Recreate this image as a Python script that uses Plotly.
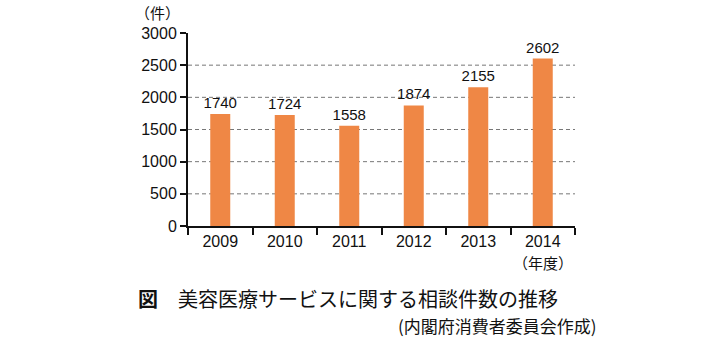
import plotly.graph_objects as go

years = ["2009", "2010", "2011", "2012", "2013", "2014"]
counts = [1740, 1724, 1558, 1874, 2155, 2602]
y_ticks = [0, 500, 1000, 1500, 2000, 2500, 3000]
grid_vals = [500, 1000, 1500, 2000, 2500]

NUM_FONT = "Liberation Sans, Arial, sans-serif"
JP_FONT = "Noto Sans CJK JP, sans-serif"

fig = go.Figure()
fig.add_trace(go.Bar(
    x=years, y=counts,
    marker=dict(color="#EF8745", line=dict(width=0)),
    width=0.31,
    text=[str(v) for v in counts],
    textposition="outside",
    constraintext="none",
    textfont=dict(family=NUM_FONT, size=15, color="#111"),
    cliponaxis=False,
))

for g in grid_vals:
    fig.add_shape(type="line", xref="paper", yref="y", x0=0, x1=1, y0=g, y1=g,
                  line=dict(color="#777", width=1, dash="4px,3px"), layer="below")

last_idx = len(years) - 1

fig.update_layout(
    width=720, height=340,
    margin=dict(l=188, r=145, t=33, b=114),
    paper_bgcolor="white", plot_bgcolor="white",
    showlegend=False,
    xaxis=dict(
        type="category",
        range=[-0.5, len(years) - 0.5],
        showline=True, linecolor="#111", linewidth=2,
        ticks="outside", tickson="boundaries", ticklen=7, tickwidth=1.5, tickcolor="#111",
        tickfont=dict(family=NUM_FONT, size=16, color="#111"),
        tickangle=0,
        showgrid=False, zeroline=False,
    ),
    yaxis=dict(
        range=[0, 3000],
        tickvals=y_ticks, ticktext=[str(v) for v in y_ticks],
        showline=True, linecolor="#111", linewidth=2,
        ticks="outside", ticklen=6, tickwidth=1.5, tickcolor="#111",
        tickfont=dict(family=NUM_FONT, size=16, color="#111"),
        showgrid=False, zeroline=False,
    ),
    annotations=[
        dict(text="（件）", xref="paper", yref="paper", x=0, xshift=-6, y=1.0, yshift=21,
             xanchor="right", yanchor="middle", showarrow=False,
             font=dict(family=JP_FONT, size=15, color="#111")),
        dict(text="（年度）", xref="paper", yref="paper",
             x=(last_idx + 0.5) / len(years), y=0, yshift=-36,
             xanchor="center", yanchor="middle", showarrow=False,
             font=dict(family=JP_FONT, size=15, color="#111")),
        dict(text="<b>図</b>\u3000美容医療サービスに関する相談件数の推移",
             xref="paper", yref="paper", x=0, xshift=-52, y=0, yshift=-72,
             xanchor="left", yanchor="middle", showarrow=False,
             font=dict(family=JP_FONT, size=20, color="#111")),
        dict(text="(内閣府消費者委員会作成)", xref="paper", yref="paper", x=1, xshift=24,
             y=0, yshift=-99, xanchor="right", yanchor="middle", showarrow=False,
             font=dict(family=JP_FONT, size=17, color="#111")),
    ],
)

fig.write_html("out.html")
